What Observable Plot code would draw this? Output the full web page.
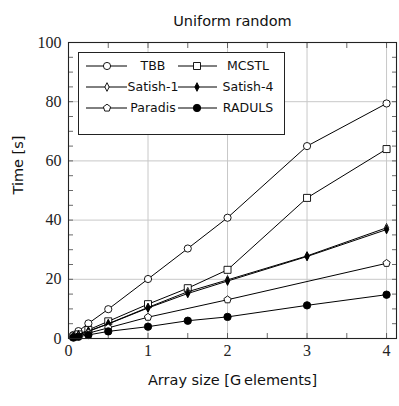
<!DOCTYPE html>
<html><head><meta charset="utf-8">
<script src="https://cdn.jsdelivr.net/npm/d3@7"></script>
<script src="https://cdn.jsdelivr.net/npm/@observablehq/plot@0.6"></script>
<style>html,body{margin:0;padding:0;background:#fff} svg{display:block}</style>
</head><body><div id="chart"></div>
<script>
// ---- data ----
const sizes = [0.0625, 0.125, 0.25, 0.5, 1, 1.5, 2, 3, 4];
const paradisSizes = [0.0625, 0.125, 0.25, 0.5, 1, 2, 4];
const tbb     = [1.2, 2.5, 5.1, 9.9, 20.1, 30.4, 40.8, 65.0, 79.4];
const mcstl   = [0.7, 1.4, 2.9, 5.8, 11.6, 17.0, 23.2, 47.5, 64.0];
const satish1 = [0.6, 1.2, 2.5, 5.0, 10.5, 15.8, 19.8, 27.9, 37.4];
const satish4 = [0.6, 1.2, 2.4, 4.9, 10.3, 15.2, 19.4, 27.7, 36.8];
const paradis = [0.4, 0.9, 1.8, 3.6, 7.2, 13.1, 25.4];
const raduls  = [0.3, 0.6, 1.2, 2.4, 4.0, 6.0, 7.3, 11.2, 14.8];
const seriesNames = ["TBB", "MCSTL", "Satish-1", "Satish-4", "Paradis", "RADULS"];
const xTicks = [0, 1, 2, 3, 4];
const yTicks = [0, 20, 40, 60, 80, 100];
const xMinor = [0, 0.5, 1, 1.5, 2, 2.5, 3, 3.5, 4];
const yMinor = [0, 5, 10, 15, 20, 25, 30, 35, 40, 45, 50, 55, 60, 65, 70, 75, 80, 85, 90, 95, 100];
const title = "Uniform random";
const xLabel = "Array size [G\u2009elements]";
const yLabel = "Time [s]";

// ---- marker shapes ----
function mk(f) { return {draw(ctx, size) { f(ctx, Math.sqrt(size / Math.PI)); }}; }
const symbols = {
  circle: mk((c, r) => { c.moveTo(r, 0); c.arc(0, 0, r, 0, 2 * Math.PI); c.closePath(); }),
  square: mk((c, r) => { c.moveTo(-r, -r); c.lineTo(r, -r); c.lineTo(r, r); c.lineTo(-r, r); c.closePath(); }),
  diamond: mk((c, r) => { const h = r * 1.2, w = r * 0.6; c.moveTo(0, -h); c.lineTo(w, 0); c.lineTo(0, h); c.lineTo(-w, 0); c.closePath(); }),
  pentagon: mk((c, r) => { for (let k = 0; k < 5; k++) { const a = -Math.PI / 2 + k * 2 * Math.PI / 5; const px = r * Math.cos(a), py = r * Math.sin(a); if (k) c.lineTo(px, py); else c.moveTo(px, py); } c.closePath(); })
};
const styles = [
  {sym: symbols.circle, fill: "white", r: 3.6},
  {sym: symbols.square, fill: "white", r: 3.5},
  {sym: symbols.diamond, fill: "white", r: 3.6},
  {sym: symbols.diamond, fill: "black", r: 3.6},
  {sym: symbols.pentagon, fill: "white", r: 3.8},
  {sym: symbols.circle, fill: "black", r: 3.7}
];
const xsFor = [sizes, sizes, sizes, sizes, paradisSizes, sizes];
const ysFor = [tbb, mcstl, satish1, satish4, paradis, raduls];
const tables = seriesNames.map((name, i) => xsFor[i].map((x, j) => ({series: name, x, y: ysFor[i][j]})));

const seriesMarks = tables.flatMap((t, i) => [
  Plot.line(t, {x: "x", y: "y", stroke: "black", strokeWidth: 1}),
  Plot.dot(t, {x: "x", y: "y", symbol: styles[i].sym, r: styles[i].r, fill: styles[i].fill, stroke: "black", strokeWidth: 0.9})
]);

const sans = "DejaVu Sans";
const chart = Plot.plot({
  width: 399, height: 406,
  marginLeft: 68, marginRight: 3, marginTop: 42, marginBottom: 68,
  style: {fontFamily: "Liberation Serif", fontSize: "16px", background: "white", overflow: "visible"},
  x: {domain: [0, 4.125]},
  y: {domain: [0, 100]},
  marks: [
    Plot.gridX([1, 2, 3, 4], {stroke: "#c8c8c8", strokeOpacity: 1, strokeWidth: 1}),
    Plot.gridY([20, 40, 60, 80], {stroke: "#c8c8c8", strokeOpacity: 1, strokeWidth: 1}),
    Plot.axisX(xMinor, {anchor: "bottom", tickSize: -5, tickFormat: () => "", label: null, stroke: "#444", strokeWidth: 0.8}),
    Plot.axisX(xMinor, {anchor: "top", tickSize: -5, tickFormat: () => "", label: null, stroke: "#444", strokeWidth: 0.8}),
    Plot.axisY(yMinor, {anchor: "left", tickSize: -5, tickFormat: () => "", label: null, stroke: "#444", strokeWidth: 0.8}),
    Plot.axisY(yMinor, {anchor: "right", tickSize: -5, tickFormat: () => "", label: null, stroke: "#444", strokeWidth: 0.8}),
    Plot.axisX(xTicks, {anchor: "bottom", tickSize: 0, tickPadding: 6, label: null, fill: "#222"}),
    Plot.axisY(yTicks, {anchor: "left", tickSize: 0, tickPadding: 7, label: null, fill: "#222"}),
    ...seriesMarks,
    Plot.frame({stroke: "#222", strokeWidth: 1.1}),
    Plot.text([title], {frameAnchor: "top", dy: -27, fontFamily: sans, fontSize: 14.5, fill: "#111"}),
    Plot.text([xLabel], {frameAnchor: "bottom", dy: 46, fontFamily: sans, fontSize: 14.5, fill: "#111"}),
    Plot.text([yLabel], {frameAnchor: "left", dx: -50, dy: 4, rotate: -90, fontFamily: sans, fontSize: 14.5, fill: "#111"})
  ]
});

// ---- legend (drawn inside the plot area, top left) ----
const svg = d3.select(chart);
const lg = svg.append("g").attr("font-family", sans).attr("font-size", 12.5);
lg.append("rect").attr("x", 78.5).attr("y", 52.5).attr("width", 206).attr("height", 82)
  .attr("fill", "white").attr("stroke", "#222").attr("stroke-width", 1);
const cols = [{l0: 86, l1: 127, m: 107, t: 153}, {l0: 178, l1: 217, m: 197, t: 248}];
const rows = [66, 87, 108];
seriesNames.forEach((name, i) => {
  const c = cols[i % 2], yy = rows[Math.floor(i / 2)];
  lg.append("line").attr("x1", c.l0).attr("x2", c.l1).attr("y1", yy).attr("y2", yy)
    .attr("stroke", "black").attr("stroke-width", 1);
  const p = d3.path();
  styles[i].sym.draw(p, Math.PI * styles[i].r * styles[i].r);
  lg.append("path").attr("d", p.toString()).attr("transform", `translate(${c.m},${yy})`)
    .attr("fill", styles[i].fill).attr("stroke", "black").attr("stroke-width", 0.9);
  lg.append("text").attr("x", c.t).attr("y", yy).attr("dy", "0.35em").attr("text-anchor", "middle")
    .attr("fill", "#111").text(name);
});

document.getElementById("chart").appendChild(chart);
</script>
</body></html>
